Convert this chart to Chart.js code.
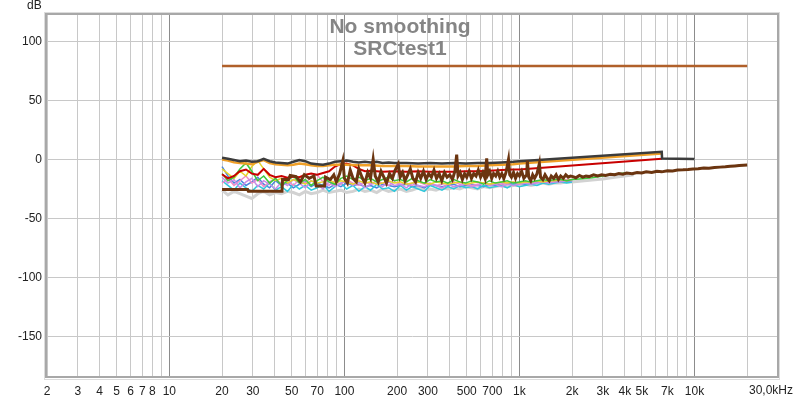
<!DOCTYPE html>
<html>
<head>
<meta charset="utf-8">
<script src="https://cdn.jsdelivr.net/npm/chart.js@4.4.1/dist/chart.umd.min.js"></script>
<style>
  body { margin: 0; background: #fff; }
  canvas { display: block; }
</style>
</head>
<body>
<canvas id="spl" width="800" height="399"></canvas>
<script>
// x axis ticks (Hz) and their labels
const xTickHz = [2, 3, 4, 5, 6, 7, 8, 9, 10, 20, 30, 40, 50, 60, 70, 80, 90, 100,
  200, 300, 400, 500, 600, 700, 800, 900, 1000, 2000, 3000, 4000, 5000, 6000, 7000, 8000, 9000,
  10000, 20000, 30000];
const xTickText = ['2', '3', '4', '5', '6', '7', '8', '', '10', '20', '30', '', '50', '', '70', '', '', '100',
  '200', '300', '', '500', '', '700', '', '', '1k', '2k', '3k', '4k', '5k', '', '7k', '', '',
  '10k', '', ''];
const xEndText = '30,0kHz';
const yTickDb = [-150, -100, -50, 0, 50, 100];

// common frequency grid for the noisy traces, 20 Hz .. 2 kHz
const gridHz = [20, 21.6, 23.4, 25.3, 27.4, 29.6, 32, 34.6, 37.4, 40.4, 43.7, 47.3, 51.1, 55.3, 59.8,
  64.6, 69.9, 75.5, 81.7, 88.3, 95.5, 103, 112, 121, 131, 141, 153, 165, 179, 193, 209, 226, 244, 264,
  286, 309, 334, 361, 390, 422, 456, 493, 533, 577, 624, 674, 729, 788, 852, 921, 996, 1077, 1164,
  1259, 1361, 1471, 1591, 1720, 1860, 2000];

const greenDb = [-12, -18, -15, -8, -3, -10, -18, -14, -20, -16, -22, -18, -14, -20, -17, -22, -18, -15,
  -19, -21, -16, -14, -17, -15, -18, -16, -19, -17, -15, -18, -17, -19, -16, -18, -20, -17, -19, -18,
  -20, -17, -19, -20, -18, -19, -21, -18, -20, -19, -18, -20, -19, -18, -19, -18, -17, -18, -17, -17, -18, -17];
const cyanDb = [-18, -22, -26, -20, -24, -27, -22, -25, -20, -26, -23, -27, -21, -25, -22, -26, -24, -21,
  -27, -23, -20, -25, -22, -27, -23, -26, -21, -25, -24, -27, -22, -26, -23, -25, -27, -22, -24, -26,
  -23, -25, -22, -24, -23, -25, -22, -24, -23, -22, -24, -21, -23, -22, -21, -22, -20, -21, -20, -19, -20, -19];
const violetDb = [-15, -20, -17, -24, -19, -16, -23, -18, -21, -25, -19, -22, -17, -20, -24, -18, -21, -25,
  -19, -23, -20, -18, -22, -19, -24, -21, -20, -23, -19, -22, -21, -24, -20, -22, -23, -21, -22, -24,
  -21, -23, -22, -21, -23, -22, -20, -22, -21, -23, -21, -22, -21, -20, -21, -20, -19, -20, -19, -19, -18, -18];
const blueDb = [-6, -14, -20, -17, -22, -19, -15, -21, -24, -18, -22, -20, -24, -21, -19, -23, -20, -22,
  -24, -21, -23, -20, -22, -21, -23, -22, -24, -21, -22, -23, -22, -21, -23, -22, -24, -21, -22, -23,
  -22, -21, -23, -22, -21, -22, -23, -21, -22, -21, -20, -21, -20, -21, -20, -19, -20, -19, -19, -18, -19, -18];
const yellowDb = [-8, -12, -16, -10, -14, -6, -1, -8, -15, -18, -16, -20, -17, -19, -21, -18, -20, -19,
  -17, -20, -18, -19, -21, -18, -20, -19, -21, -20, -18, -20, -19, -21, -20, -19, -20, -21, -19, -20,
  -21, -20, -19, -21, -20, -19, -20, -21, -20, -19, -20, -19, -20, -19, -19, -18, -19, -18, -18, -17, -18, -17];
const pinkDb = [-20, -16, -22, -18, -14, -20, -17, -23, -19, -16, -21, -18, -22, -17, -20, -15, -13, -19,
  -22, -18, -21, -17, -20, -22, -19, -21, -18, -20, -22, -19, -21, -20, -22, -19, -21, -20, -22, -21,
  -20, -19, -21, -20, -22, -21, -20, -21, -20, -21, -20, -19, -20, -19, -20, -19, -18, -19, -18, -18, -17, -17];
const paleDb = [-26, -30, -27, -29, -31, -33, -29, -27, -30, -28, -29, -27, -28, -30, -27, -29, -28, -26,
  -28, -27, -26, -28, -27, -25, -27, -26, -28, -25, -27, -26, -25, -27, -26, -24, -26, -25, -26, -24,
  -25, -24, -25, -23, -24, -25, -23, -24, -23, -22, -23, -22, -22, -21, -22, -21, -20, -21, -20, -20, -19, -19];

// tails above 2 kHz
const greenTail = [[2200, -16.5], [2600, -15.5], [3000, -14], [3500, -12.5], [4000, -11.5]];
const paleTail = [[2200, -18.5], [2600, -17.5], [3000, -16.5], [3500, -15], [4000, -14], [4500, -13]];

// traces with their own frequency points
const levelLine = [[20, 79], [20000, 79]];
const darkLine = [[20, 1.5], [21.6, 0.5], [23.4, -0.5], [25.3, -1.5], [27.4, -1], [29.6, -2], [32, -1.5],
  [34.6, 0.5], [37.4, -1.5], [40.4, -2.5], [43.7, -3], [47.3, -3.5], [51.1, -2], [55.3, -0.5], [59.8, -1.5],
  [64.6, -3.5], [69.9, -4], [75.5, -4.5], [81.7, -3.5], [88.3, -2], [95.5, -1.5], [103, -1], [112, -2],
  [121, -2.5], [131, -2], [141, -2.5], [153, -2], [165, -3], [179, -2.5], [193, -3], [226, -3], [264, -3.5],
  [309, -3], [361, -3.5], [422, -3], [493, -3.5], [577, -3], [674, -3], [788, -2.5], [921, -2], [1000, -1.5],
  [6500, 6.5], [6530, 0.8], [10000, 0.3]];
const orangeLine = [[20, 0], [21.6, -1], [23.4, -2.5], [25.3, -3], [27.4, -3.5], [29.6, -4], [32, -2],
  [34.6, -0.5], [37.4, -3], [40.4, -4], [43.7, -4.5], [47.3, -5], [51.1, -4.5], [55.3, -3.5], [59.8, -4],
  [64.6, -5], [69.9, -5.5], [75.5, -5.5], [81.7, -5], [88.3, -4.5], [95.5, -4.5], [103, -4.5], [121, -5],
  [141, -5], [165, -5.5], [193, -5.5], [226, -5.5], [264, -6], [309, -6], [361, -6], [422, -6], [493, -5.5],
  [577, -5.5], [674, -5], [788, -4.5], [921, -4], [1000, -3.5], [6500, 5]];
const redLine = [[20, -12.5], [21.6, -16], [23.4, -14], [25.3, -10], [27.4, -8.5], [29.6, -12], [32, -13],
  [34.6, -8], [37.4, -13], [40.4, -15], [43.7, -14], [47.3, -15.5], [51.1, -14.5], [55.3, -15], [59.8, -13],
  [64.6, -12], [69.9, -13], [75.5, -11.5], [81.7, -10], [88.3, -6], [95.5, -4], [103, -3.5], [112, -5],
  [121, -8], [131, -10], [141, -9.5], [153, -10], [165, -10.5], [193, -10], [226, -10.5], [264, -10],
  [309, -10.5], [361, -10.5], [422, -10.5], [493, -10], [577, -10], [674, -9.5], [788, -9], [921, -8.5],
  [1000, -8.5], [6500, 0.5]];
const brownLine = [[20, -25.5], [28, -25.5], [28.3, -27], [44, -27], [44.3, -17], [48, -17], [49, -13.5],
  [53, -14.5], [56, -19], [59, -13], [63, -16], [67, -14], [69, -22.5], [77, -22.5], [78, -15], [83, -17],
  [87, -13], [90, -19], [94, -12], [98, -1], [100, -16], [104, -20], [108, -9], [112, -16], [117, -19],
  [121, -8], [126, -15], [131, -20], [136, -11], [141, -16], [146, 0], [150, -14], [156, -19], [162, -10],
  [168, -15], [174, -20], [181, -12], [188, -16], [195, -9], [203, -4], [208, -15], [215, -11], [222, -18],
  [230, -13], [238, -8], [246, -16], [255, -19], [264, -11], [273, -16], [283, -10], [293, -17], [303, -12],
  [314, -15], [325, -9], [336, -16], [348, -12], [360, -18], [373, -11], [386, -15], [400, -13], [414, -17],
  [428, -10], [438, 4], [446, -14], [458, -11], [472, -17], [486, -12], [500, -15], [516, -10], [532, -16],
  [548, -12], [565, -14], [582, -9], [600, -15], [618, -11], [636, -16], [650, 1], [660, -13], [676, -10],
  [694, -16], [712, -12], [732, -14], [752, -10], [772, -15], [793, -12], [815, -16], [838, -11], [866, 0],
  [880, -13], [900, -15], [925, -11], [950, -16], [975, -12], [1000, -14], [1030, -10], [1060, -16],
  [1100, -13], [1110, -1], [1130, -15], [1160, -18], [1190, -13], [1220, -16], [1260, -12], [1300, -3.5],
  [1320, -15], [1360, -17], [1400, -13], [1440, -16], [1480, -18], [1520, -14], [1570, -16], [1620, -13],
  [1670, -17], [1720, -14], [1780, -16], [1840, -13], [1900, -15], [1960, -14], [2020, -14.5], [2100, -15.5],
  [2200, -13.5], [2300, -15], [2400, -14], [2500, -14.5], [2650, -13], [2800, -14], [2950, -13], [3100, -13.5],
  [3300, -12.5], [3500, -13], [3700, -12], [3900, -12.5], [4100, -11.5], [4400, -12], [4700, -11], [5000, -11.5],
  [5300, -10.5], [5700, -11], [6100, -10], [6500, -10.5], [7000, -9.5], [7500, -9.8], [8000, -9], [8600, -8.8],
  [9200, -8.5], [9800, -8], [10500, -7.8], [11300, -7.2], [12100, -7.4], [13000, -6.8], [14000, -6.5],
  [15000, -6.2], [16000, -5.8], [17000, -5.5], [18000, -5.2], [19000, -5], [20000, -4.8]];

function onGrid(values, tail) {
  const pts = gridHz.map((f, i) => ({ x: f, y: values[i] }));
  (tail || []).forEach(p => pts.push({ x: p[0], y: p[1] }));
  return pts;
}
function fromPairs(pairs) {
  return pairs.map(p => ({ x: p[0], y: p[1] }));
}
function trace(data, color, width) {
  return { data: data, borderColor: color, borderWidth: width, pointRadius: 0, tension: 0, fill: false };
}

const FONT = '"Liberation Sans", Arial, sans-serif';

// frame, title, dB label and the last x label
const decorations = {
  id: 'decorations',
  afterDraw(chart) {
    const ctx = chart.ctx;
    const a = chart.chartArea;
    ctx.save();
    ctx.strokeStyle = '#dcdcdc';
    ctx.lineWidth = 1;
    ctx.strokeRect(a.left - 2.5, a.top - 1.5, a.right - a.left + 4, a.bottom - a.top + 4);
    ctx.strokeStyle = '#a8a8a8';
    ctx.lineWidth = 2;
    ctx.strokeRect(a.left - 1, a.top, a.right - a.left + 1, a.bottom - a.top);

    ctx.fillStyle = '#858585';
    ctx.font = 'bold 21px ' + FONT;
    ctx.textAlign = 'center';
    ctx.textBaseline = 'alphabetic';
    ctx.fillText('No smoothing', 400, 33);
    ctx.fillText('SRCtest1', 400, 55);

    ctx.fillStyle = '#222';
    ctx.font = '12px ' + FONT;
    ctx.textAlign = 'left';
    ctx.fillText('dB', 27, 9);

    ctx.textAlign = 'right';
    ctx.textBaseline = 'middle';
    ctx.fillText(xEndText, chart.scales.x.getPixelForValue(30000) + 15, 391);
    ctx.restore();
  }
};

const ctx = document.getElementById('spl').getContext('2d');
new Chart(ctx, {
  type: 'line',
  data: {
    datasets: [
      trace(fromPairs(brownLine), '#6b3510', 3),
      trace(fromPairs(darkLine), '#3c3c3c', 2.5),
      trace(fromPairs(orangeLine), '#f0a028', 2.5),
      trace(fromPairs(redLine), '#c80000', 2),
      trace(fromPairs(levelLine), '#b0602a', 2.5),
      trace(onGrid(greenDb, greenTail), '#3cc83c', 1.5),
      trace(onGrid(yellowDb), '#e6d228', 1.5),
      trace(onGrid(violetDb), '#c88ce6', 1.5),
      trace(onGrid(pinkDb), '#f08cc8', 1.5),
      trace(onGrid(cyanDb), '#30c8dc', 1.5),
      trace(onGrid(blueDb), '#4a84dc', 1.5),
      trace(onGrid(paleDb, paleTail), '#d2d2d2', 3)
    ]
  },
  options: {
    responsive: false,
    animation: false,
    layout: { padding: { top: 14, right: 22, bottom: 0, left: 0 } },
    plugins: { legend: { display: false }, tooltip: { enabled: false } },
    scales: {
      x: {
        type: 'logarithmic',
        min: 2,
        max: 30000,
        afterBuildTicks: scale => { scale.ticks = xTickHz.map(v => ({ value: v })); },
        afterFit: scale => {
          scale.height = 22;
          scale.paddingLeft = 0;
          scale.paddingRight = 0;
        },
        border: { display: false },
        grid: {
          drawTicks: false,
          color: c => [10, 100, 1000, 10000].includes(c.tick && c.tick.value) ? '#8c8c8c' : '#c8c8c8',
          lineWidth: 1
        },
        ticks: {
          autoSkip: false,
          maxRotation: 0,
          padding: 7,
          color: '#222',
          font: { family: FONT, size: 12 },
          callback: (value, index) => xTickText[index]
        }
      },
      y: {
        min: -184,
        max: 123,
        afterBuildTicks: scale => { scale.ticks = yTickDb.map(v => ({ value: v })); },
        afterFit: scale => { scale.width = 47; },
        border: { display: false },
        grid: { drawTicks: false, color: '#c8c8c8', lineWidth: 1 },
        ticks: {
          padding: 5,
          color: '#222',
          font: { family: FONT, size: 12 }
        }
      }
    }
  },
  plugins: [decorations]
});
</script>
</body>
</html>
